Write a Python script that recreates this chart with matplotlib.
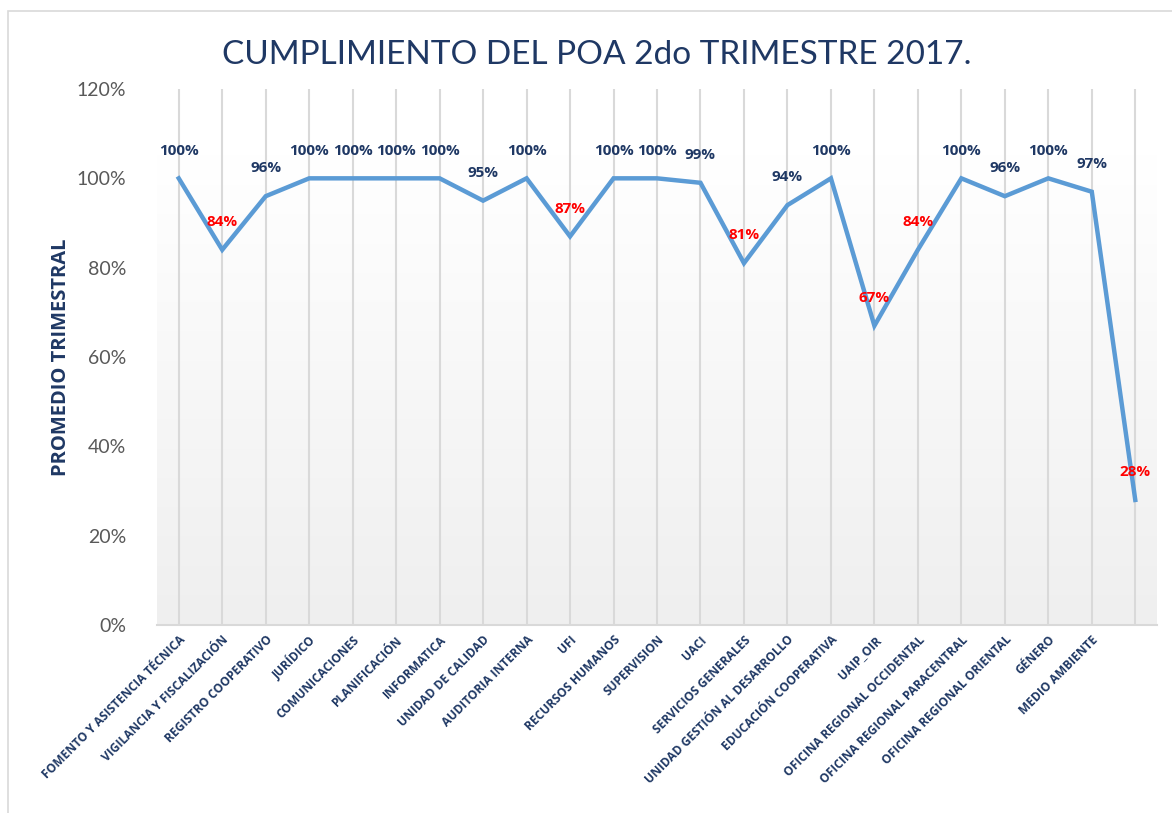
import matplotlib
matplotlib.use("Agg")
import matplotlib.pyplot as plt
import numpy as np
from matplotlib.patches import Rectangle
from matplotlib.colors import LinearSegmentedColormap

categories = ["FOMENTO Y ASISTENCIA TÉCNICA", "VIGILANCIA Y FISCALIZACIÓN", "REGISTRO COOPERATIVO",
              "JURÍDICO", "COMUNICACIONES", "PLANIFICACIÓN", "INFORMATICA", "UNIDAD DE CALIDAD",
              "AUDITORIA INTERNA", "UFI", "RECURSOS HUMANOS", "SUPERVISION", "UACI",
              "SERVICIOS GENERALES", "UNIDAD GESTIÓN AL DESARROLLO", "EDUCACIÓN COOPERATIVA",
              "UAIP_OIR", "OFICINA REGIONAL OCCIDENTAL", "OFICINA REGIONAL PARACENTRAL",
              "OFICINA REGIONAL ORIENTAL", "GÉNERO", "MEDIO AMBIENTE", ""]
values = [1.00, 0.84, 0.96, 1.00, 1.00, 1.00, 1.00, 0.95, 1.00, 0.87, 1.00, 1.00, 0.99,
          0.81, 0.94, 1.00, 0.67, 0.84, 1.00, 0.96, 1.00, 0.97, 0.28]
yticks = [0, 0.2, 0.4, 0.6, 0.8, 1.0, 1.2]

navy = "#1F3864"
plt.rcParams['font.family'] = ['Lato', 'DejaVu Sans']
boldfam = ['Open Sans', 'DejaVu Sans']

fig = plt.figure(figsize=(11.72, 8.13), dpi=100)
fig.patches.append(Rectangle((8/1172, -0.1), 1.2, 1 - 11/813 + 0.1, transform=fig.transFigure,
                             fill=False, edgecolor="#d9d9d9", linewidth=1.2))
ax = fig.add_axes([157/1172, (813-625)/813, 1000/1172, (625-89)/813])

x = np.arange(len(values))
ax.set_xlim(-0.5, len(values) - 0.5)
ax.set_ylim(0, 1.2)

# gradient background
grad = np.linspace(0, 1, 256).reshape(-1, 1)
cmap = LinearSegmentedColormap.from_list("g", ["#efefef", "#ffffff"])
ax.imshow(grad, extent=[-0.5, len(values) - 0.5, 0, 1.05], origin="lower", aspect="auto",
          cmap=cmap, zorder=0, interpolation="bicubic")

for xi in x:
    ax.axvline(xi, color="#d9d9d9", linewidth=1.5, zorder=1)

ax.plot(x, values, color="#5B9BD5", linewidth=3.2, zorder=3, solid_joinstyle="miter")

for xi, v in zip(x, values):
    col = navy if v >= 0.9 else "#FF0000"
    ax.annotate(f"{round(v*100):d}%", (xi, v), xytext=(0, 20), textcoords="offset points",
                ha="center", va="center", fontsize=11, fontweight="bold", color=col, zorder=4,
                family=boldfam)

for s in ["left", "right", "top"]:
    ax.spines[s].set_visible(False)
ax.spines["bottom"].set_color("#d9d9d9")
ax.spines["bottom"].set_linewidth(1.5)

ax.set_yticks(yticks)
ax.set_yticklabels([f"{int(round(t*100))}%" for t in yticks], fontsize=14, color="#595959")
ax.tick_params(axis="y", length=0, pad=22)
ax.set_xticks(x)
ax.set_xticklabels(categories, rotation=45, ha="right", rotation_mode="anchor",
                   fontsize=8.6, fontweight="bold", color=navy, family=boldfam)
ax.tick_params(axis="x", length=0, pad=6)

ax.set_ylabel("PROMEDIO TRIMESTRAL", fontsize=14.5, fontweight="bold", color=navy, family=boldfam)
ax.yaxis.set_label_coords(-0.086, 0.5)

fig.text(597/1172, 1 - 55/813, "CUMPLIMIENTO DEL POA 2do TRIMESTRE 2017.", ha="center", va="center",
         fontsize=24, color=navy)

fig.savefig("out.png", dpi=100)
